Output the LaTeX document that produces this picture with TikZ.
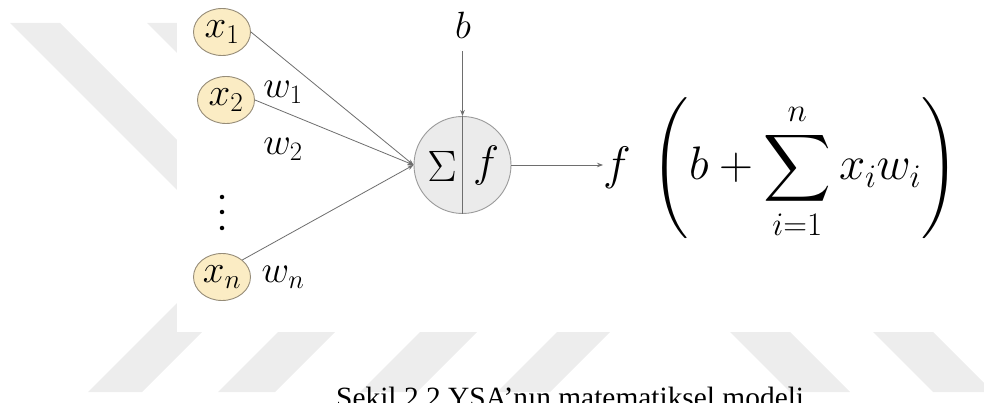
\RequirePackage{fix-cm}
\documentclass[tikz,border=0pt]{standalone}
\DeclareFontFamily{OMX}{cmex}{}
\DeclareFontShape{OMX}{cmex}{m}{n}{<-> cmex10}{}
\usepackage{fontspec}
\newfontfamily\capfont{Liberation Serif}
\usetikzlibrary{arrows.meta,shapes.geometric}
\definecolor{inpfill}{RGB}{251,236,196}
\definecolor{inpline}{RGB}{150,140,120}
\definecolor{sumfill}{RGB}{235,235,235}
\definecolor{sumline}{RGB}{155,155,155}
\definecolor{edgecol}{RGB}{110,110,110}
\definecolor{stripecol}{RGB}{237,237,237}
\tikzset{
  inp/.style={ellipse, draw=inpline, line width=0.9pt, fill=inpfill, minimum width=57pt, minimum height=47pt, inner sep=0pt, font=\fontsize{39}{42}\selectfont},
  lbl/.style={inner sep=0pt, font=\fontsize{38}{41}\selectfont},
  big/.style={inner sep=0pt, font=\fontsize{44}{48}\selectfont},
  arr/.style={draw=edgecol, line width=0.8pt, -{Stealth[length=6pt,width=4.5pt]}},
  dotnode/.style={circle, fill=black, inner sep=0pt, minimum size=4.5pt},
  stripe/.style={fill=stripecol}
}
\begin{document}
\begin{tikzpicture}[x=1pt,y=-1pt]
\useasboundingbox (0,0) rectangle (984,403);
\clip (0,0) rectangle (984,403);
% watermark stripes
\fill[stripe] (10,23) -- (60,23) -- (250,213) -- (200,213) -- cycle;
\fill[stripe] (147,23) -- (197,23) -- (300,126) -- (250,126) -- cycle;
\fill[stripe] (88,392) -- (142,392) -- (244,290) -- (190,290) -- cycle;
\fill[stripe] (218,392) -- (275,392) -- (337,330) -- (280,330) -- cycle;
\fill[stripe] (360,392) -- (417,392) -- (479,330) -- (422,330) -- cycle;
\fill[stripe] (497,392) -- (550,392) -- (612,330) -- (559,330) -- cycle;
\fill[stripe] (728,330) -- (788,330) -- (850,392) -- (790,392) -- cycle;
\fill[stripe] (871,330) -- (931,330) -- (993,392) -- (933,392) -- cycle;
\fill[white] (177,0) rectangle (984,332);
% inputs
\node[inp] (x1) at (222,32) {$x_1$};
\node[inp] (x2) at (226,100) {$x_2$};
\node[inp] (xn) at (222,277) {$x_n$};
\node[dotnode] (d1) at (222,197) {};
\node[dotnode] (d2) at (222,212) {};
\node[dotnode] (d3) at (222,228) {};
% weights
\node[lbl] (w1) at (283,92) {$w_1$};
\node[lbl] (w2) at (283,149) {$w_2$};
\node[lbl] (wn) at (283,277) {$w_n$};
% neuron
\node[circle, draw=sumline, line width=0.9pt, fill=sumfill, minimum size=97pt, inner sep=0pt] (s) at (462.5,165) {};
\draw[edgecol, line width=0.8pt] (s.north) -- (s.south);
\node[big] (sig) at (442,166) {$\Sigma$};
\node[big] (fn) at (486,166) {$f$};
% bias
\node[lbl] (b) at (463,25) {$b$};
\draw[arr, shorten <=13pt] (b.south -| s.north) -- (s.north);
% input connectors
\draw[arr] (x1.east) -- (s.west);
\draw[arr] (x2.east) -- (s.west);
\draw[arr] (xn.40) -- (s.west);
% output
\node[anchor=base west, inner sep=0pt, font=\fontsize{47}{51}\selectfont] (out) at (603,180) {$\displaystyle f\;\left(b+\sum_{i=1}^{n}x_iw_i\right)$};
\draw[arr] (s.east) -- (out.west |- s.east);
% caption
\node[anchor=base west, inner sep=0pt, font=\capfont\fontsize{29.4}{30}\selectfont] (cap) at (336,407) {Şekil 2.2 YSA’nın matematiksel modeli};
\end{tikzpicture}
\end{document}
